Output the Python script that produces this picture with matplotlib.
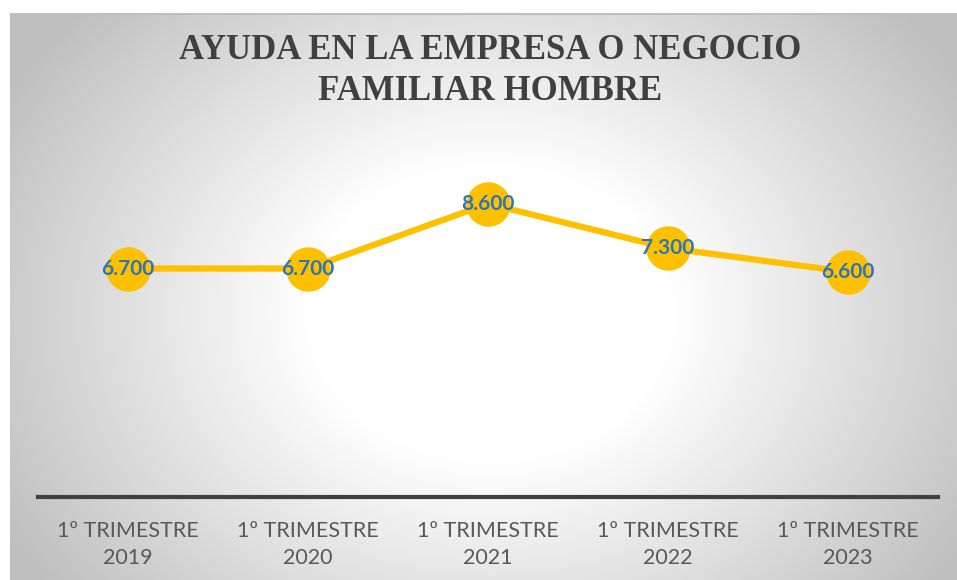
import numpy as np
import matplotlib.pyplot as plt

periodos = ["1º TRIMESTRE\n2019", "1º TRIMESTRE\n2020", "1º TRIMESTRE\n2021",
            "1º TRIMESTRE\n2022", "1º TRIMESTRE\n2023"]
valores = [6700, 6700, 8600, 7300, 6600]
etiquetas = ["6.700", "6.700", "8.600", "7.300", "6.600"]

fig = plt.figure(figsize=(9.57, 5.80), dpi=100)
fig.patch.set_facecolor("white")

# fondo con degradado radial
bg = fig.add_axes([10 / 957, 0, 947 / 957, 567 / 580])
yy, xx = np.mgrid[0:567, 0:947]
r = np.sqrt(((xx - 480) / 520.0) ** 2 + ((yy - 300) / 420.0) ** 2)
g = np.clip(1 - 0.26 * np.clip(r - 0.35, 0, None) / 0.75, 0.75, 1)
img = np.dstack([g, g, g])
bg.imshow(img, aspect="auto", interpolation="bilinear")
bg.axis("off")
bg.plot([0, 946], [0.5, 0.5], color="#bfbfbf", lw=1.5)

ax = fig.add_axes([38 / 957, 83 / 580, 900 / 957, 341 / 580])
ax.patch.set_alpha(0)
x = np.arange(len(valores))
ax.plot(x, valores, color="#FFC000", lw=4.5, marker="o", markersize=31,
        markerfacecolor="#FFC000", markeredgecolor="#FFC000", zorder=3)
for xi, v, t in zip(x, valores, etiquetas):
    ax.text(xi, v, t, ha="center", va="center", color="#2E75B6",
            fontsize=15, fontweight="bold", family="Lato", zorder=4)

ax.set_xlim(-0.5, 4.5)
ax.set_ylim(0, 10000)
ax.set_yticks([])
ax.set_xticks(x)
ax.set_xticklabels(periodos, fontsize=15.5, color="#595959", family="Lato",
                   linespacing=1.45)
ax.tick_params(axis="x", length=0, pad=17)
for s in ["top", "right", "left"]:
    ax.spines[s].set_visible(False)
ax.spines["bottom"].set_color("#404040")
ax.spines["bottom"].set_linewidth(3)

fig.text(490 / 957, 1 - 71 / 580, "AYUDA EN LA EMPRESA O NEGOCIO\nFAMILIAR HOMBRE",
         ha="center", va="center", fontsize=25, fontweight="bold",
         color="#404040", family="Liberation Serif", linespacing=1.35)

plt.savefig("out.png", dpi=100)
